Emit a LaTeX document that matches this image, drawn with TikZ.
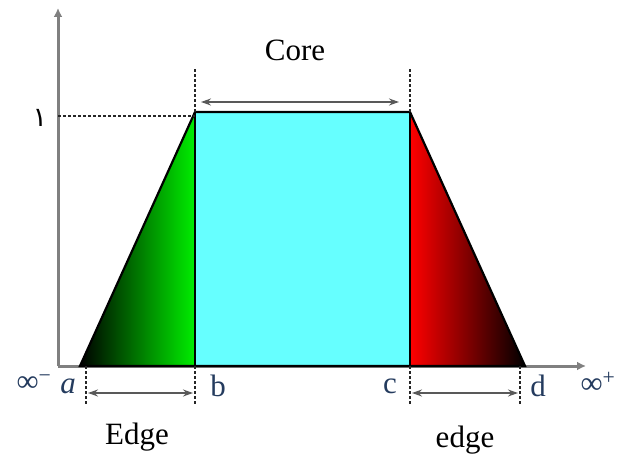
\documentclass[tikz,border=0pt]{standalone}
\usepackage{fontspec}
\setmainfont{Liberation Serif}
\newfontfamily\arabicfont[Script=Arabic]{DejaVu Sans}
\TeXXeTstate=1
\usetikzlibrary{arrows.meta}
\definecolor{cgreen}{HTML}{00EE00}
\definecolor{cred}{HTML}{FF0000}
\definecolor{ccyan}{HTML}{66FFFF}
\definecolor{caxis}{HTML}{808080}
\definecolor{cnavy}{HTML}{243B5E}
\tikzset{
  every picture/.style={x=1pt, y=-1pt, font=\fontsize{31}{36}\selectfont},
  axis/.style={draw=caxis, line width=3pt, -{Latex[length=9pt, width=9pt]}},
  outline/.style={draw=black, line width=2.2pt},
  guide/.style={draw=black!85, dash pattern=on 3pt off 2pt, line width=1.2pt},
  span/.style={{Stealth[length=10pt, width=7pt]}-{Stealth[length=10pt, width=7pt]}, draw=black!65, line width=2pt},
  lab/.style={inner sep=0pt},
  tick/.style={text=cnavy, inner sep=0pt},
}

\begin{document}
\begin{tikzpicture}
  \useasboundingbox (0,0) rectangle (627,457);
  % axes
  \coordinate (o) at (58,366);
  \coordinate (ytop) at (58,8);
  \coordinate (xend) at (586,366);
  \draw[axis] (o) -- (ytop);
  \draw[axis] (o) -- (xend);
  % trapezoid corners
  \coordinate (a) at (80,366);
  \coordinate (b) at (195,366);
  \coordinate (c) at (410,366);
  \coordinate (d) at (525,366);
  \coordinate (bt) at (195,112);
  \coordinate (ct) at (410,112);
  \shade[left color=black, right color=cgreen] (a) -- (bt) -- (b) -- cycle;
  \fill[ccyan] (b) rectangle (ct);
  \shade[left color=cred, right color=black] (c) -- (ct) -- (d) -- cycle;
  \draw[outline] (a) -- (bt) -- (ct) -- (d) -- cycle;
  \draw[outline] (b) -- (bt);
  \draw[outline] (c) -- (ct);
  % level one
  \coordinate (one) at (58,116);
  \draw[guide] (one) -- (one -| bt);
  \node[inner sep=0pt, font=\fontsize{27}{30}\selectfont] (unit) at (40,118) {\arabicfont\beginR ١\endR};
  % core span
  \coordinate (bu) at (195,68);
  \coordinate (cu) at (410,68);
  \draw[guide] (bt) -- (bu);
  \draw[guide] (ct) -- (cu);
  \coordinate (coreL) at (201,102);
  \coordinate (coreR) at (399,102);
  \draw[span] (coreL) -- (coreR);
  \node[lab] (core) at (295,50) {Core};
  % edge spans
  \coordinate (ad) at (86,404);
  \coordinate (bd) at (195,404);
  \coordinate (cd) at (410,404);
  \coordinate (dd) at (520,404);
  \draw[guide] (ad |- a) -- (ad);
  \draw[guide] (b) -- (bd);
  \draw[guide] (c) -- (cd);
  \draw[guide] (dd |- d) -- (dd);
  \coordinate (edgeLa) at (88,393);
  \coordinate (edgeLb) at (193,393);
  \coordinate (edgeRa) at (412,393);
  \coordinate (edgeRb) at (518,393);
  \draw[span] (edgeLa) -- (edgeLb);
  \draw[span] (edgeRa) -- (edgeRb);
  \node[lab] (edgeL) at (137,437) {Edge};
  \node[lab] (edgeR) at (465,440) {edge};
  % tick labels
  \node[tick] (ninf) at (34,383) {∞\textsuperscript{−}};
  \node[tick] (la) at (68,386) {\textit{a}};
  \node[tick] (lb) at (218,386) {b};
  \node[tick] (lc) at (390,386) {c};
  \node[tick] (ld) at (538,386) {d};
  \node[tick] (pinf) at (598,383) {∞\textsuperscript{+}};
\end{tikzpicture}
\end{document}
